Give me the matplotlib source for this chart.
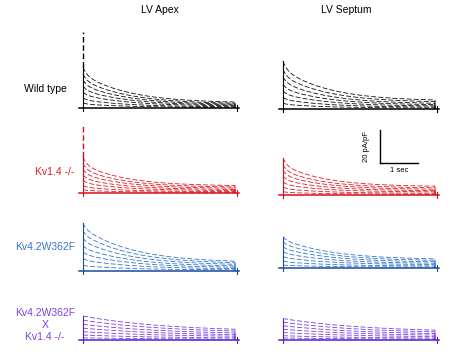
import numpy as np
import matplotlib
matplotlib.use("Agg")
import matplotlib.pyplot as plt

plt.rcParams['font.family'] = ['Liberation Sans', 'DejaVu Sans']

# ---- data (current in pA/pF, time in s) ----
columns = ["LV Apex", "LV Septum"]
genotypes = ["Wild type", "Kv1.4 -/-", "Kv4.2W362F", "Kv4.2W362F\nX\nKv1.4 -/-"]
row_colors = ["#111111", "#e01b24", "#3576cc", "#7a3fe0"]
base_colors = ["#000000", "#d0101a", "#1a4aa0", "#5020c8"]

# peak currents of each trace (top to bottom)
wt_apex_peaks = [24.8, 20.6, 17.0, 13.3, 9.7, 6.1, 3.0]
wt_apex_ss = [3.0, 2.4, 1.9, 1.5, 1.1, 0.6, 0.3]
wt_sept_peaks = [29.0, 24.0, 19.5, 15.0, 11.0, 7.0, 3.5]
wt_sept_ss = [4.8, 3.9, 3.0, 2.3, 1.6, 1.0, 0.5]
ko_apex_peaks = [21.8, 18.0, 14.5, 11.0, 7.8, 4.5, 2.0]
ko_apex_ss = [4.2, 3.4, 2.7, 2.0, 1.4, 0.8, 0.4]
ko_sept_peaks = [22.5, 18.5, 15.0, 11.5, 8.0, 4.8, 2.0]
ko_sept_ss = [5.0, 4.1, 3.3, 2.5, 1.8, 1.0, 0.5]
dn_apex_peaks = [29.0, 24.5, 20.0, 15.5, 11.5, 7.5, 3.5]
dn_apex_ss = [5.0, 4.2, 3.4, 2.6, 1.9, 1.2, 0.6]
dn_sept_peaks = [19.0, 16.0, 13.0, 10.0, 7.0, 4.2, 1.8]
dn_sept_ss = [5.0, 4.2, 3.4, 2.6, 1.9, 1.1, 0.5]
dko_apex_peaks = [14.5, 12.0, 9.5, 7.2, 5.0, 3.0, 1.3]
dko_apex_ss = [5.0, 4.2, 3.3, 2.5, 1.8, 1.0, 0.4]
dko_sept_peaks = [13.0, 10.8, 8.6, 6.5, 4.5, 2.6, 1.2]
dko_sept_ss = [4.6, 3.8, 3.0, 2.3, 1.6, 0.9, 0.4]

# capacitive spike height (pA/pF), None if absent
spikes = [[46.0, None], [42.0, None], [None, None], [None, None]]

# decay kinetics per genotype: (fast fraction, tau fast, tau slow)
kinetics = [(0.2, 0.10, 1.2), (0.25, 0.10, 1.1), (0.12, 0.08, 1.3), (0.0, 0.1, 2.2)]

peaks = [[wt_apex_peaks, wt_sept_peaks], [ko_apex_peaks, ko_sept_peaks],
         [dn_apex_peaks, dn_sept_peaks], [dko_apex_peaks, dko_sept_peaks]]
steady = [[wt_apex_ss, wt_sept_ss], [ko_apex_ss, ko_sept_ss],
          [dn_apex_ss, dn_sept_ss], [dko_apex_ss, dko_sept_ss]]

step_dur = 4.0
scale_t = 1.0
scale_i = 20.0

# ---- layout (pixels) ----
W, H = 450, 360
fig = plt.figure(figsize=(W / 100, H / 100), dpi=100)
px_per_s = 38.0
px_per_i = 1.65
col_x0 = [83, 283]
row_base = [[108, 109], [193, 195], [271, 268], [340, 340]]
xlim = (-0.3, 4.3)
ylim = (-4.0, 50.0)


def panel_axes(x0, base):
    left = x0 + xlim[0] * px_per_s
    width = (xlim[1] - xlim[0]) * px_per_s
    top = base - ylim[1] * px_per_i
    height = (ylim[1] - ylim[0]) * px_per_i
    ax = fig.add_axes([left / W, 1 - (top + height) / H, width / W, height / H])
    ax.set_xlim(*xlim)
    ax.set_ylim(*ylim)
    ax.axis('off')
    return ax


t = np.linspace(0, step_dur, 400)
for r in range(4):
    a, tf, ts = kinetics[r]
    for c in range(2):
        ax = panel_axes(col_x0[c], row_base[r][c])
        col = row_colors[r]
        bcol = base_colors[r]
        pk = peaks[r][c]
        ss = steady[r][c]
        for p, s in zip(pk, ss):
            y = s + (p - s) * (a * np.exp(-t / tf) + (1 - a) * np.exp(-t / ts))
            tt = np.concatenate([t, [step_dur]])
            yy = np.concatenate([y, [0]])
            ax.plot(tt, yy, color=col, lw=0.6, ls=(0, (6, 2.5)))
        # baseline and step marks
        ax.plot([-0.1, step_dur + 0.1], [0, 0], color=bcol, lw=1.1)
        ax.plot([0, 0], [-2, pk[0]], color=bcol, lw=0.8)
        ax.plot([step_dur + 0.05, step_dur + 0.05], [-2.0, 2.0], color=bcol, lw=0.8)
        if spikes[r][c] is not None:
            ax.plot([0, 0], [pk[0], spikes[r][c]], color=bcol, lw=1.0, ls=(0, (4, 2)))

# scale bar
sb = panel_axes(380, 163)
sb.plot([0, 0], [0, scale_i], color='black', lw=1.0)
sb.plot([0, scale_t], [0, 0], color='black', lw=1.0)
sb.text(scale_t / 2, -2.5, "1 sec", ha='center', va='top', fontsize=5.5)
sb.text(-0.35, scale_i / 2, "20 pA/pF", ha='center', va='center', rotation=90, fontsize=5.5)

# column titles
fig.text(160 / W, 1 - 10 / H, columns[0], ha='center', va='center', fontsize=7.5)
fig.text(346 / W, 1 - 10 / H, columns[1], ha='center', va='center', fontsize=7.5)

# row labels
label_pos = [(45, 89), (55, 172), (45, 247), (45, 325)]
for r in range(4):
    fig.text(label_pos[r][0] / W, 1 - label_pos[r][1] / H, genotypes[r], ha='center',
             va='center', fontsize=7.5, color=row_colors[r] if r != 0 else 'black',
             linespacing=1.25)

fig.savefig("out.png", dpi=100)
